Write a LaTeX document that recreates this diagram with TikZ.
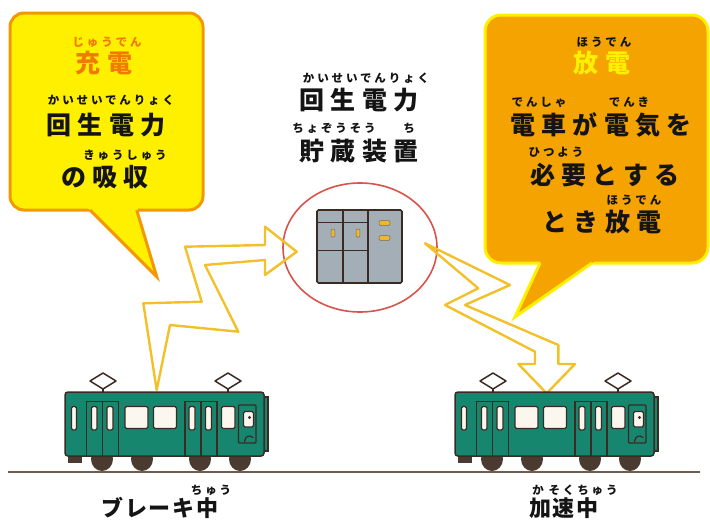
\documentclass[tikz,border=0pt]{standalone}
\usepackage{fontspec}
\newfontfamily\jp{Noto Sans CJK JP}[LetterSpace=25]
\newfontfamily\jpn{Noto Sans CJK JP}[LetterSpace=8]
\definecolor{ink}{HTML}{141414}
\definecolor{lemon}{HTML}{FFF000}
\definecolor{amber}{HTML}{F5A300}
\definecolor{rim}{HTML}{F39800}
\definecolor{chargeTxt}{HTML}{F07A00}
\definecolor{bolt}{HTML}{F2C02A}
\definecolor{ringRed}{HTML}{D9534C}
\definecolor{steel}{HTML}{A3AEB6}
\definecolor{knob}{HTML}{EDB830}
\definecolor{teal}{HTML}{17866F}
\definecolor{brownInk}{HTML}{3A2A22}
\definecolor{wheel}{HTML}{4A3A30}
\definecolor{cream}{HTML}{FBF7EF}
\definecolor{rail}{HTML}{6E5E52}
\begin{document}
\begin{tikzpicture}[x=1pt,y=-1pt,
  maintext/.style={font=\jp\bfseries\fontsize{25}{25}\selectfont, inner sep=0pt, text=ink},
  rubytext/.style={font=\jp\bfseries\fontsize{11.5}{12}\selectfont, inner sep=0pt, text=ink},
  labeltext/.style={font=\jpn\bfseries\fontsize{22}{22}\selectfont, inner sep=0pt, text=ink},
  boltline/.style={draw=bolt, line width=2.4pt, line join=round},
  trainline/.style={draw=brownInk, line width=1.5pt},
  pane/.style={fill=cream, draw=brownInk, line width=1.2pt, rounded corners=1.5pt},
  frameline/.style={draw=brownInk, line width=1.2pt}]
\useasboundingbox (0,0) rectangle (710,522);
\clip (0,0) rectangle (710,522);

% ---- charge bubble (left) ----
\draw[fill=lemon, draw=rim, line width=3pt, rounded corners=14pt] (10,13) rectangle (203,210);
\fill[lemon] (87.5,207.5) -- (156.7,276.7) -- (137.3,207.5) -- cycle;
\draw[rim, line width=3pt, line join=miter] (90,210) -- (156.7,276.7) -- (136.7,210);
\node[rubytext, text=chargeTxt] (lruby1) at (107,42) {じゅうでん};
\node[maintext, text=chargeTxt] (lhead) at (104,63) {充電};
\node[rubytext] (lruby2) at (111,100) {かいせいでんりょく};
\node[maintext] (lline1) at (106,125) {回生電力};
\node[rubytext] (lruby3) at (125,155) {きゅうしゅう};
\node[maintext] (lline2) at (105,177) {の吸収};

% ---- discharge bubble (right) ----
\draw[fill=amber, draw=lemon, line width=3pt, rounded corners=16pt] (485,15) rectangle (708,263);
\fill[amber] (541.2,260.5) -- (515,317) -- (595.5,260.5) -- cycle;
\draw[lemon, line width=3pt, line join=miter] (540,263) -- (515,317) -- (592,263);
\node[rubytext] (rruby1) at (604,42) {ほうでん};
\node[maintext, text=lemon] (rhead) at (602,63) {放電};
\node[rubytext] (rruby2) at (539,102) {でんしゃ};
\node[rubytext] (rruby3) at (629,102) {でんき};
\node[maintext] (rline1) at (601,125) {電車が電気を};
\node[rubytext] (rruby4) at (556,152) {ひつよう};
\node[maintext] (rline2) at (605,175) {必要とする};
\node[rubytext] (rruby5) at (634,200) {ほうでん};
\node[maintext] (rline3) at (602,222) {とき放電};

% ---- storage caption ----
\node[rubytext] (cruby1) at (366,78) {かいせいでんりょく};
\node[maintext] (cline1) at (359,100) {回生電力};
\node[rubytext] (cruby2) at (334,128) {ちょぞうそう};
\node[rubytext] (cruby3) at (409,128) {ち};
\node[maintext] (cline2) at (359,151) {貯蔵装置};

% ---- storage unit in its ring ----
\draw[ringRed, line width=1.6pt] (360,247.5) ellipse [x radius=77pt, y radius=64.5pt];
\draw[fill=steel, draw=brownInk, line width=1.6pt, rounded corners=1.5pt] (317,210) rectangle (402,283);
\draw[brownInk, line width=1.4pt] (343,210) -- (343,283) (368,210) -- (368,283);
\draw[brownInk, line width=1pt] (317,222) -- (368,222) (317,250) -- (368,250);
\foreach \kx in {333,358}
  \draw[fill=knob, draw=brownInk!70, line width=0.5pt, rounded corners=1pt] (\kx-1.8,229) rectangle (\kx+1.8,237);
\foreach \ky in {223,238}
  \draw[fill=knob, draw=brownInk!70, line width=0.5pt, rounded corners=2pt] (379,\ky-2.5) rectangle (390,\ky+2.5);

% ---- energy bolts ----
\draw[boltline] (156.7,390) -- (143.3,303.3) -- (201.7,301.7) -- (185,246.7) -- (265,245)
  -- (265,226.7) -- (296.7,251.7) -- (265,275) -- (265,260) -- (205,265) -- (238.3,331.7)
  -- (170,325) -- cycle;
\draw[boltline] (425,243.3) -- (510,285) -- (465,305) -- (558.3,345) -- (558.3,364)
  -- (575,364) -- (546.7,393.3) -- (518.3,364) -- (535,364) -- (535,351.7)
  -- (445,305) -- (478.3,288.3) -- cycle;

% ---- rail ----
\draw[rail, line width=2pt] (8,472) -- (700,472);

% ---- trains ----
\foreach \dx in {0,390} {
\begin{scope}[xshift=\dx pt]
  \foreach \wx in {102,142,200,240}
    \fill[wheel] (\wx,459) ellipse [x radius=11pt, y radius=12pt];
  \fill[wheel] (68,452) rectangle (82,463);
  \draw[fill=teal, draw=brownInk, line width=1.2pt] (262,397) rectangle (268,451);
  \draw[fill=teal, trainline, rounded corners=3pt] (65,392) rectangle (264,456);
  \foreach \px in {103,228} {
    \draw[trainline] (\px,389) -- (\px,392);
    \draw[fill=white, trainline, line join=round] (\px-13,381) -- (\px,373) -- (\px+13,381) -- (\px,389) -- cycle;
  }
  \draw[pane] (71.5,406.5) rectangle (76.5,430);
  \draw[frameline] (86.5,456) -- (86.5,401.5) -- (118.5,401.5) -- (118.5,456) (102.5,401.5) -- (102.5,456);
  \draw[pane] (91.5,406.5) rectangle (97,430);
  \draw[pane] (107,406.5) rectangle (113,430);
  \draw[pane] (125,406.5) rectangle (148,428.5);
  \draw[pane] (153.5,406.5) rectangle (176.5,428.5);
  \draw[frameline] (185,456) -- (185,401.5) -- (217,401.5) -- (217,456) (201,401.5) -- (201,456);
  \draw[pane] (189,406.5) rectangle (195,430);
  \draw[pane] (205.5,406.5) rectangle (211.5,430);
  \draw[pane] (221.5,406.5) rectangle (235,428.5);
  \draw[frameline, rounded corners=1pt] (238.5,405) rectangle (256,443);
  \draw[pane] (243.5,411.5) rectangle (253.5,427);
  \fill[brownInk] (249.5,417.5) circle [radius=1.7pt];
  \draw[brownInk, line width=1.2pt, line cap=round] (244.5,441.5) .. controls (245.5,436) and (249,434.5) .. (253,437.5);
\end{scope}
}

% ---- captions under the trains ----
\node[rubytext] (bruby1) at (211,490) {ちゅう};
\node[labeltext] (blabel) at (160,508) {ブレーキ中};
\node[rubytext] (aruby1) at (538,490) {か};
\node[rubytext] (aruby2) at (583,490) {そくちゅう};
\node[labeltext] (alabel) at (564,508) {加速中};
\end{tikzpicture}
\end{document}
